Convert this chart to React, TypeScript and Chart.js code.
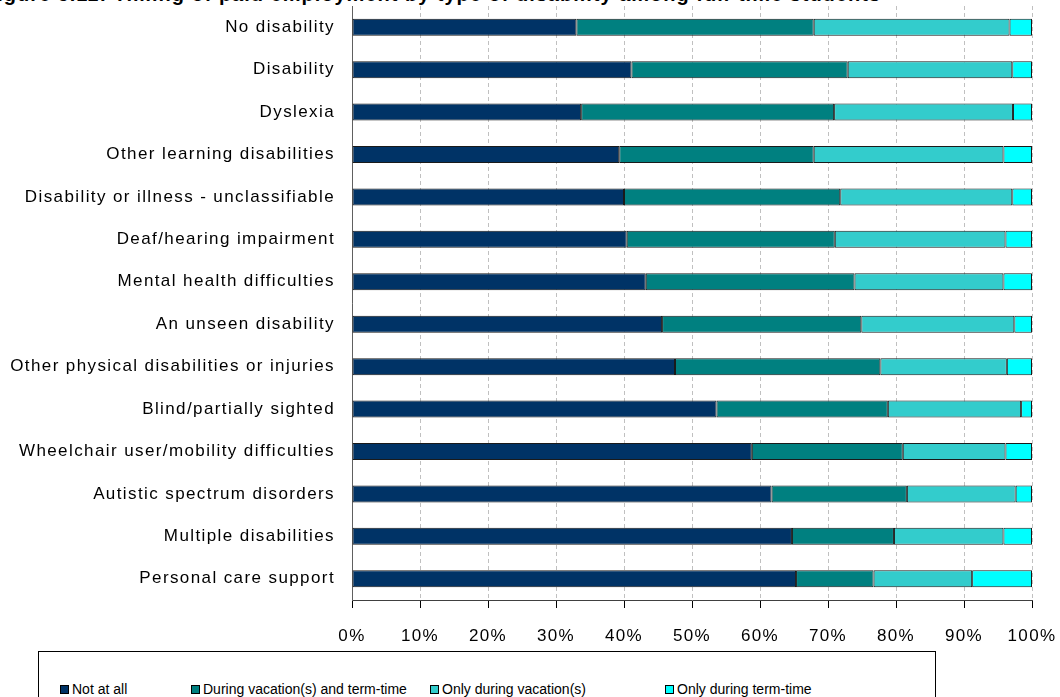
import React, { useEffect, useRef } from "react";
import { Chart, registerables } from "chart.js";

Chart.register(...registerables);

const categories = [
  "No disability",
  "Disability",
  "Dyslexia",
  "Other learning disabilities",
  "Disability or illness - unclassifiable",
  "Deaf/hearing impairment",
  "Mental health difficulties",
  "An unseen disability",
  "Other physical disabilities or injuries",
  "Blind/partially sighted",
  "Wheelchair user/mobility difficulties",
  "Autistic spectrum disorders",
  "Multiple disabilities",
  "Personal care support",
];

const seriesNames = [
  "Not at all",
  "During vacation(s) and term-time",
  "Only during vacation(s)",
  "Only during term-time",
];

const notAtAll = [33.0, 41.1, 33.7, 39.3, 40.0, 40.4, 43.2, 45.6, 47.5, 53.6, 58.8, 61.7, 64.7, 65.3];
const vacationAndTerm = [34.9, 31.8, 37.2, 28.6, 31.8, 30.6, 30.7, 29.3, 30.2, 25.2, 22.2, 19.9, 15.0, 11.4];
const onlyVacation = [28.8, 24.2, 26.3, 27.9, 25.3, 25.1, 21.9, 22.5, 18.6, 19.6, 15.1, 16.0, 16.1, 14.5];
const onlyTerm = [3.3, 2.9, 2.8, 4.2, 2.9, 3.9, 4.2, 2.6, 3.7, 1.6, 3.9, 2.4, 4.2, 8.8];

const xTickValues = [0, 10, 20, 30, 40, 50, 60, 70, 80, 90, 100];

const titleText =
  "Figure 5.11: Timing of paid employment by type of disability among full-time students";

const colors = ["#003366", "#008080", "#33CCCC", "#00FFFF"];
const FONT = "Arial, 'Liberation Sans', sans-serif";

const spacingPlugin = {
  id: "spacing",
  beforeUpdate(chart: any) {
    chart.ctx.letterSpacing = "1.4px";
  },
  beforeDraw(chart: any) {
    chart.ctx.letterSpacing = "1.4px";
  },
};

export default function App() {
  const ref = useRef<HTMLCanvasElement | null>(null);

  useEffect(() => {
    if (!ref.current) return;
    const seriesData = [notAtAll, vacationAndTerm, onlyVacation, onlyTerm];
    const chart = new Chart(ref.current, {
      type: "bar",
      data: {
        labels: categories,
        datasets: seriesNames.map((name, i) => ({
          label: name,
          data: seriesData[i],
          backgroundColor: colors[i],
          borderColor: "#1a1a1a",
          borderWidth: 1,
          borderSkipped: false,
          barPercentage: 0.4,
          categoryPercentage: 1,
        })),
      },
      plugins: [spacingPlugin],
      options: {
        indexAxis: "y",
        animation: false,
        responsive: false,
        maintainAspectRatio: false,
        layout: { padding: { left: 0, right: 28, top: 6, bottom: 0 } },
        plugins: {
          legend: { display: false },
          title: { display: false },
          tooltip: { enabled: false },
        },
        scales: {
          x: {
            stacked: true,
            min: 0,
            max: 100,
            afterBuildTicks(scale: any) {
              scale.ticks = xTickValues.map((v) => ({ value: v }));
            },
            afterFit(scale: any) {
              scale.height = 45;
              scale.paddingLeft = 0;
              scale.paddingRight = 0;
            },
            ticks: {
              callback: (v: any) => v + "%",
              color: "#000",
              font: { family: FONT, size: 17 },
              padding: 18,
              maxRotation: 0,
              autoSkip: false,
            },
            grid: {
              color: "#c0c0c0",
              drawTicks: true,
              tickLength: 8,
              tickColor: "#000",
              tickBorderDash: [],
              tickWidth: 1,
            } as any,
            border: { display: true, color: "#404040", width: 1, dash: [4, 3] },
          },
          y: {
            stacked: true,
            afterFit(scale: any) {
              scale.width = 352;
              scale.paddingTop = 0;
              scale.paddingBottom = 0;
            },
            ticks: {
              color: "#000",
              font: { family: FONT, size: 17 },
              padding: 17,
              autoSkip: false,
            },
            grid: { display: false, drawTicks: false },
            border: { display: true, color: "#606060", width: 1 },
          },
        },
      } as any,
    });
    return () => chart.destroy();
  }, []);

  const lefts = [21, 152, 391, 626];

  return (
    <div
      style={{
        position: "fixed",
        left: 0,
        top: 0,
        width: 1060,
        height: 697,
        overflow: "hidden",
        background: "#fff",
      }}
    >
      <div
        style={{
          position: "absolute",
          left: -16,
          top: -16,
          whiteSpace: "nowrap",
          font: `bold 20px ${FONT}`,
          lineHeight: "20px",
          letterSpacing: "1px",
          color: "#000",
        }}
      >
        {titleText}
      </div>
      <canvas
        ref={ref}
        width={1060}
        height={645}
        style={{ position: "absolute", left: 0, top: 0, width: 1060, height: 645 }}
      />
      <div
        style={{
          position: "absolute",
          left: 38,
          top: 651,
          width: 898,
          height: 70,
          border: "1px solid #000",
          boxSizing: "border-box",
          fontFamily: FONT,
          fontSize: 14,
          letterSpacing: "0px",
          color: "#000",
        }}
      >
        {seriesNames.map((name, i) => (
          <div
            key={name}
            style={{
              position: "absolute",
              left: lefts[i],
              top: 29,
              display: "flex",
              alignItems: "center",
              whiteSpace: "nowrap",
              lineHeight: "16px",
            }}
          >
            <span
              style={{
                display: "inline-block",
                width: 7,
                height: 7,
                background: colors[i],
                border: "1px solid #000",
                marginRight: 3,
              }}
            />
            <span>{name}</span>
          </div>
        ))}
      </div>
    </div>
  );
}
